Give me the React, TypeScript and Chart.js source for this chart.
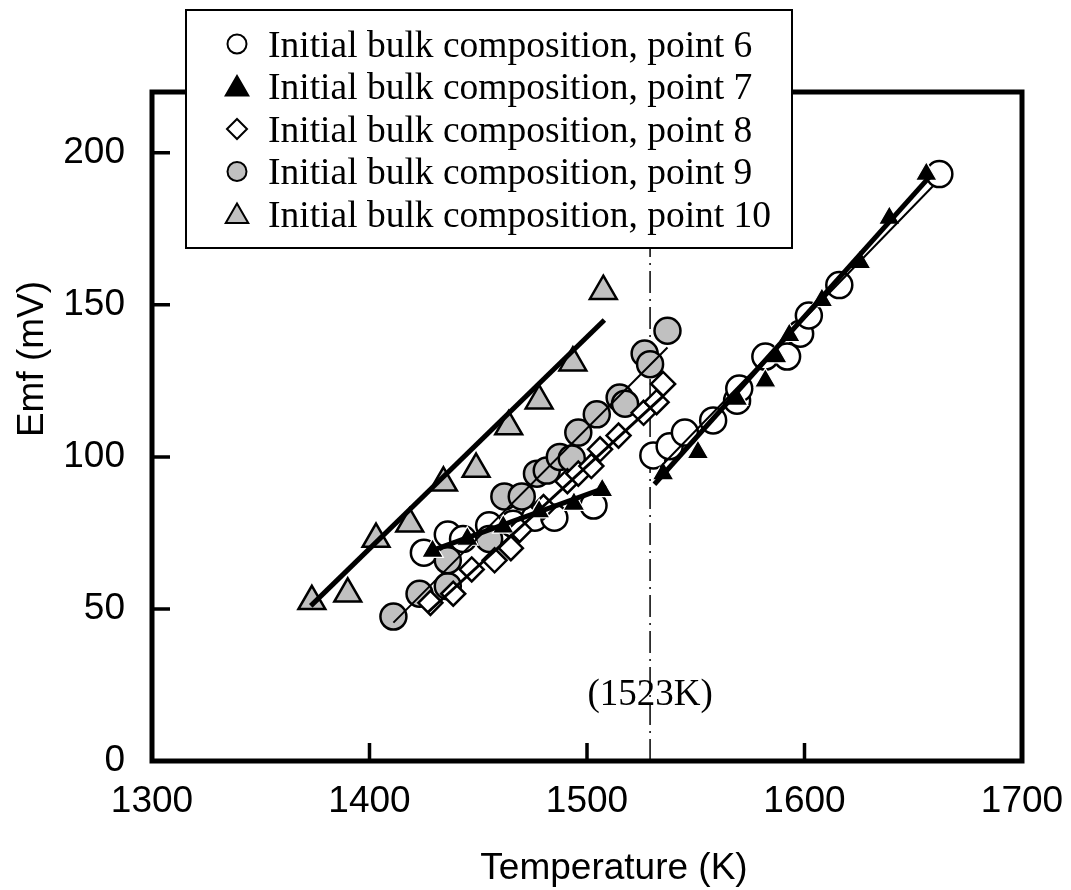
import React, { useEffect, useRef } from "react";
import { Chart, registerables } from "chart.js";

Chart.register(...registerables);

// ---------- data (Temperature K, Emf mV) ----------
const p6Temp = [1425, 1436, 1443, 1455, 1466, 1476, 1485, 1503, 1530.5, 1538, 1545, 1558, 1569, 1570, 1582, 1592, 1598, 1602, 1616, 1662];
const p6Emf = [68.5, 74.5, 73, 77.5, 78, 80, 80, 84, 100.5, 103.5, 108, 112, 118.5, 122.5, 133, 133, 140.5, 146.5, 156.5, 193];

const p7Temp = [1429, 1445, 1461.5, 1478, 1494, 1507, 1535, 1551, 1569, 1582, 1587, 1593, 1608, 1625.5, 1639, 1656];
const p7Emf = [69, 73, 77, 82, 84.5, 89, 94.5, 101.5, 119, 125, 133, 140, 151.5, 164, 178.5, 193];

const p8Temp = [1428, 1438.5, 1447, 1457.5, 1465, 1469, 1480, 1491, 1496, 1502, 1506, 1514.5, 1526, 1532, 1535];
const p8Emf = [52, 55, 63, 66, 70, 76, 83.5, 92, 94.5, 97, 102.5, 107, 114.5, 118, 124];

const p9Temp = [1411, 1423, 1436, 1436, 1455, 1462, 1470, 1477, 1481.5, 1487.5, 1493, 1496, 1504.5, 1515, 1517.5, 1526.5, 1529, 1537];
const p9Emf = [47.5, 55, 57.5, 66, 73, 87, 87, 94.5, 95.5, 100, 99.5, 108, 114, 119.5, 117.5, 134, 130.5, 141.5];

const p10Temp = [1373.5, 1390, 1403, 1418.5, 1434, 1449, 1464, 1478, 1493.5, 1507.5];
const p10Emf = [52.5, 55, 73, 78, 91.5, 96, 110, 118.5, 131, 154.5];

// regression lines: [T start, T end], [Emf start, Emf end]
const fit6Temp = [1533.5, 1659];
const fit6Emf = [96.5, 189];
const fit7aTemp = [1428, 1509];
const fit7aEmf = [69, 90];
const fit7bTemp = [1531, 1658];
const fit7bEmf = [91, 192.5];
const fit8Temp = [1427, 1535];
const fit8Emf = [49, 120];
const fit9Temp = [1411, 1537];
const fit9Emf = [45.5, 136];
const fit10Temp = [1373, 1508];
const fit10Emf = [51, 145];

const legendLabels = [
  "Initial bulk composition, point 6",
  "Initial bulk composition, point 7",
  "Initial bulk composition, point 8",
  "Initial bulk composition, point 9",
  "Initial bulk composition, point 10",
];

const xTicks = [1300, 1400, 1500, 1600, 1700];
const yTicks = [0, 50, 100, 150, 200];
const refLineTemp = 1529;
const refLineLabel = "(1523K)";
const xTitle = "Temperature (K)";
const yTitle = "Emf (mV)";

const GRAY = "#c0c0c0";
const SANS = '"Liberation Sans", Arial, sans-serif';
const SERIF = '"Liberation Serif", "Times New Roman", serif';

const pts = (xs: number[], ys: number[]) => xs.map((x, i) => ({ x, y: ys[i] }));

function drawMarker(
  ctx: CanvasRenderingContext2D,
  style: string,
  x: number,
  y: number,
  r: number,
  fill: string,
  stroke: string,
  lw: number
) {
  ctx.beginPath();
  if (style === "circle") {
    ctx.arc(x, y, r, 0, Math.PI * 2);
  } else if (style === "triangle") {
    for (let k = 0; k < 3; k++) {
      const a = (k * 2 * Math.PI) / 3;
      const px = x + Math.sin(a) * r;
      const py = y - Math.cos(a) * r;
      if (k === 0) ctx.moveTo(px, py);
      else ctx.lineTo(px, py);
    }
  } else {
    ctx.moveTo(x - r, y);
    ctx.lineTo(x, y - r);
    ctx.lineTo(x + r, y);
    ctx.lineTo(x, y + r);
  }
  ctx.closePath();
  ctx.fillStyle = fill;
  ctx.fill();
  ctx.lineWidth = lw;
  ctx.strokeStyle = stroke;
  ctx.stroke();
}

const decorPlugin = {
  id: "decor",
  beforeDatasetsDraw(chart: any) {
    const { ctx, chartArea: a, scales } = chart;
    const vx = scales.x.getPixelForValue(refLineTemp);
    ctx.save();
    ctx.strokeStyle = "#000";
    ctx.lineWidth = 1.5;
    ctx.setLineDash([22, 6, 2, 6]);
    ctx.beginPath();
    ctx.moveTo(vx, a.bottom);
    ctx.lineTo(vx, a.top);
    ctx.stroke();
    ctx.setLineDash([]);
    ctx.fillStyle = "#000";
    ctx.font = `37px ${SERIF}`;
    ctx.textAlign = "center";
    ctx.textBaseline = "alphabetic";
    ctx.fillText(refLineLabel, vx, a.bottom - 56);
    ctx.restore();
  },
  afterDatasetsDraw(chart: any) {
    const { ctx, chartArea: a, scales } = chart;
    ctx.save();
    ctx.strokeStyle = "#000";
    ctx.lineWidth = 5;
    ctx.setLineDash([]);
    ctx.strokeRect(a.left, a.top, a.right - a.left, a.bottom - a.top);
    ctx.lineWidth = 3.5;
    ctx.beginPath();
    xTicks.forEach((t) => {
      const px = scales.x.getPixelForValue(t);
      ctx.moveTo(px, a.bottom);
      ctx.lineTo(px, a.bottom - 18);
    });
    yTicks.forEach((t) => {
      const py = scales.y.getPixelForValue(t);
      ctx.moveTo(a.left, py);
      ctx.lineTo(a.left + 18, py);
    });
    ctx.stroke();
    ctx.restore();
  },
  afterDraw(chart: any) {
    const { ctx, chartArea: a } = chart;
    ctx.save();
    // axis titles
    ctx.fillStyle = "#000";
    ctx.font = `37px ${SANS}`;
    ctx.textAlign = "center";
    ctx.textBaseline = "alphabetic";
    ctx.fillText(xTitle, (a.left + a.right) / 2 + 27, 879);
    ctx.save();
    ctx.translate(43, 359);
    ctx.rotate(-Math.PI / 2);
    ctx.fillText(yTitle, 0, 0);
    ctx.restore();

    // legend box
    const bx = 186, by = 10, bw = 606, bh = 238;
    ctx.fillStyle = "#fff";
    ctx.fillRect(bx, by, bw, bh);
    ctx.strokeStyle = "#000";
    ctx.lineWidth = 2;
    ctx.strokeRect(bx, by, bw, bh);
    const rows = [44, 86.5, 129, 171.5, 214];
    const markers = [
      { s: "circle", r: 9.5, f: "#fff", dy: 0 },
      { s: "triangle", r: 13, f: "#000", dy: 2.5 },
      { s: "rectRot", r: 10, f: "#fff", dy: 0 },
      { s: "circle", r: 9.5, f: GRAY, dy: 0 },
      { s: "triangle", r: 13, f: GRAY, dy: 2.5 },
    ];
    ctx.font = `37.5px ${SERIF}`;
    ctx.textAlign = "left";
    rows.forEach((cy, i) => {
      const m = markers[i];
      drawMarker(ctx, m.s, 237, cy + m.dy, m.r, m.f, "#000", 2);
      ctx.fillStyle = "#000";
      ctx.fillText(legendLabels[i], 268, cy + 12.5);
    });
    ctx.restore();
  },
};

export default function App() {
  const ref = useRef<HTMLCanvasElement | null>(null);
  useEffect(() => {
    if (!ref.current) return;
    const markerDs = (
      label: string,
      data: any[],
      style: string,
      r: number,
      fill: string,
      stroke: string,
      bw: number,
      order: number
    ) => ({
      label,
      data,
      showLine: false,
      pointStyle: style,
      pointRadius: r,
      pointHoverRadius: r,
      backgroundColor: fill,
      borderColor: stroke,
      borderWidth: bw,
      order,
    });
    const lineDs = (label: string, data: any[], width: number) => ({
      label,
      data,
      showLine: true,
      pointRadius: 0,
      borderColor: "#000",
      borderWidth: width,
      fill: false,
      order: 0,
    });
    const chart = new Chart(ref.current, {
      type: "scatter",
      data: {
        datasets: [
          lineDs("fit10", pts(fit10Temp, fit10Emf), 5),
          lineDs("fit9", pts(fit9Temp, fit9Emf), 2),
          lineDs("fit8", pts(fit8Temp, fit8Emf), 3),
          lineDs("fit7a", pts(fit7aTemp, fit7aEmf), 5),
          lineDs("fit7b", pts(fit7bTemp, fit7bEmf), 5),
          lineDs("fit6", pts(fit6Temp, fit6Emf), 2),
          markerDs(legendLabels[1], pts(p7Temp, p7Emf), "triangle", 12.5, "#000", "#fff", 1.2, 1),
          markerDs(legendLabels[4], pts(p10Temp, p10Emf), "triangle", 15.5, GRAY, "#000", 2.5, 2),
          markerDs(legendLabels[2], pts(p8Temp, p8Emf), "rectRot", 12, "#fff", "#000", 2.5, 3),
          markerDs(legendLabels[3], pts(p9Temp, p9Emf), "circle", 13, GRAY, "#000", 2.5, 4),
          markerDs(legendLabels[0], pts(p6Temp, p6Emf), "circle", 13, "#fff", "#000", 2.5, 5),
        ],
      },
      options: {
        responsive: false,
        animation: false,
        devicePixelRatio: 1,
        layout: { padding: { left: 0, right: 49, top: 92, bottom: 0 } },
        plugins: { legend: { display: false }, tooltip: { enabled: false } },
        scales: {
          x: {
            type: "linear",
            min: 1300,
            max: 1700,
            ticks: {
              stepSize: 100,
              color: "#000",
              padding: 19,
              maxRotation: 0,
              font: { family: SANS, size: 37 },
              callback: (v: any) => String(v),
            },
            grid: { display: false, drawTicks: false },
            border: { display: false },
            afterFit(s: any) {
              s.height = 129;
              s.paddingLeft = 0;
              s.paddingRight = 0;
            },
          },
          y: {
            type: "linear",
            min: 0,
            max: 220,
            ticks: {
              stepSize: 50,
              includeBounds: false,
              color: "#000",
              padding: 27,
              font: { family: SANS, size: 37 },
              callback: (v: any) => String(v),
            },
            grid: { display: false, drawTicks: false },
            border: { display: false },
            afterFit(s: any) {
              s.width = 152;
              s.paddingTop = 0;
              s.paddingBottom = 0;
            },
          },
        },
      },
      plugins: [decorPlugin],
    } as any);
    return () => chart.destroy();
  }, []);
  return (
    <div style={{ position: "absolute", left: 0, top: 0, width: 1071, height: 890, background: "#fff" }}>
      <canvas ref={ref} width={1071} height={890} style={{ display: "block" }} />
    </div>
  );
}
